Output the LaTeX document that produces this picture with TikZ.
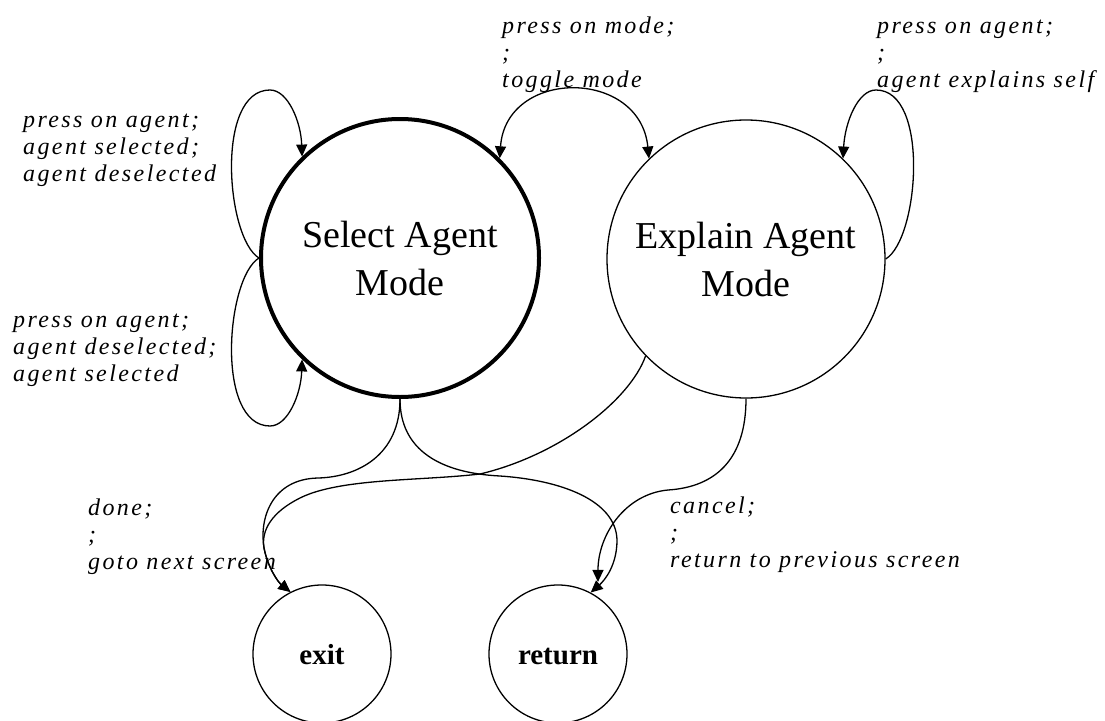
\documentclass[tikz,border=0pt]{standalone}
\usepackage{fontspec}
\setmainfont{Liberation Serif}
\newfontfamily\edgefont{Liberation Serif}[LetterSpace=10]
\usetikzlibrary{arrows.meta}

\begin{document}
\begin{tikzpicture}[x=1pt, y=-1pt, >={Triangle[length=12pt,width=11pt]},
    state/.style={circle, draw, line width=1.3pt, minimum size=278pt, inner sep=0pt,
        align=center, font=\fontsize{38}{48}\selectfont},
    final/.style={circle, draw, line width=1.3pt, minimum size=138pt, inner sep=0pt,
        text height=20pt, text depth=0pt, font=\fontsize{29}{34}\selectfont\bfseries},
    trans/.style={->, line width=1.3pt},
    note/.style={anchor=north west, inner sep=0pt, align=left,
        font=\fontsize{24}{27}\edgefont\itshape}]
    \useasboundingbox (0,0) rectangle (1105,720);

    % States
    \node[state, line width=4pt] (select) at (400,258) {Select Agent\\Mode};
    \node[state] (explain) at (746,259) {Explain Agent\\Mode};
    \node[final] (exit) at (322,654) {exit};
    \node[final] (return) at (558,654) {return};

    % Self loops on Select
    \draw[trans] (select.west) .. controls (226,238) and (215,90) .. (270,90)
        .. controls (288,90) and (301,122) .. (select.134);
    \draw[trans] (select.west) .. controls (226,278) and (215,426) .. (270,426)
        .. controls (288,426) and (301,394) .. (select.226);

    % Toggle between modes
    \draw[trans, <->] (select.45) .. controls (506,68) and (640,68) .. (explain.134);

    % Self loop on Explain
    \draw[trans] (explain.east) .. controls (919,239) and (930,90) .. (876,90)
        .. controls (858,90) and (845,122) .. (explain.46);

    % Done
    \draw[trans] (select.south) .. controls (400,455) and (358,477) .. (318,478)
        .. controls (272,479) and (259,518) .. (264,548)
        .. controls (268,568) and (278,582) .. (exit.117);
    \draw[trans] (explain.224) .. controls (630,400) and (560,455) .. (480,474)
        .. controls (420,481) and (340,478) .. (300,498)
        .. controls (272,512) and (261,530) .. (264,548)
        .. controls (268,568) and (278,582) .. (exit.117);

    % Cancel
    \draw[trans] (select.south) .. controls (400,450) and (440,473) .. (500,476)
        .. controls (560,480) and (616,500) .. (617,540)
        .. controls (617,565) and (605,580) .. (return.62);
    \draw[trans, shorten >=15pt] (explain.south) .. controls (746,460) and (715,487) .. (668,490)
        .. controls (625,494) and (598,535) .. (return.55);

    % Labels
    \node[note] (l-agentA) at (23,114) {press on agent;\\agent selected;\\agent deselected};
    \node[note] (l-agentB) at (13,314) {press on agent;\\agent deselected;\\agent selected};
    \node[note] (l-mode) at (502,17) {press on mode;\\;\\toggle mode};
    \node[note] (l-self) at (877,20) {press on agent;\\;\\agent explains self};
    \node[note] (l-done) at (88,499) {done;\\;\\goto next screen};
    \node[note] (l-cancel) at (670,497) {cancel;\\;\\return to previous screen};
\end{tikzpicture}
\end{document}
